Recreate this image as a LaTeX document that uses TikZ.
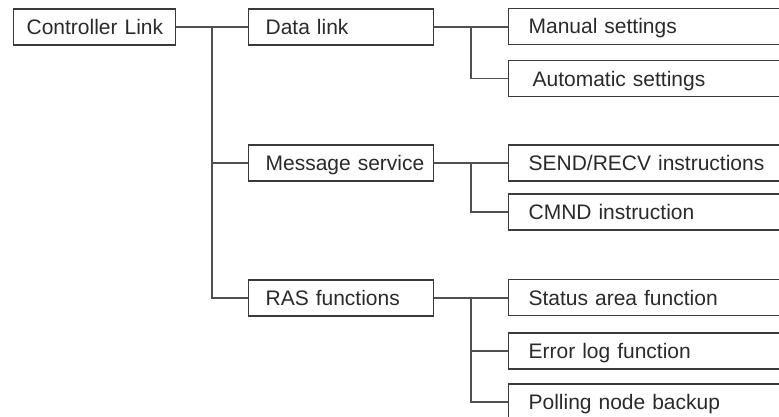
\documentclass[tikz,border=0pt]{standalone}
\usepackage{fontspec}
\setmainfont{Liberation Sans}
\definecolor{boxc}{HTML}{3A3A3A}
\definecolor{linec}{HTML}{505050}
\definecolor{txtc}{HTML}{2A2A2A}
\newcommand{\lbl}[1]{\rlap{#1}}
\begin{document}
\begin{tikzpicture}[x=1pt,y=-1pt,
  base/.style={draw=boxc, line width=1.2pt, minimum height=36pt, text height=15pt, text depth=0pt,
    inner ysep=0pt, anchor=west, align=left, text=txtc, font=\fontsize{21}{25}\selectfont},
  rootbox/.style={base, inner xsep=13pt, text width=136pt},
  midbox/.style={base, inner xsep=17pt, text width=151pt},
  leafbox/.style={base, inner xsep=20pt, text width=260pt},
  conn/.style={draw=linec, line width=1.2pt}]
\clip (0,0) rectangle (779,417);
\node[rootbox] (root) at (13,27) {\lbl{Controller Link}};
\node[midbox] (dl) at (248,27) {\lbl{Data link}};
\node[midbox] (ms) at (248,163) {\lbl{Message service}};
\node[midbox] (ras) at (248,298) {\lbl{RAS functions}};
\node[leafbox] (man) at (508,26.5) {\lbl{Manual settings}};
\node[leafbox] (aut) at (508,78.7) {\lbl{\hspace{4pt}Automatic settings}};
\node[leafbox] (snd) at (508,163) {\lbl{SEND/RECV instructions}};
\node[leafbox] (cmd) at (508,212) {\lbl{CMND instruction}};
\node[leafbox] (sta) at (508,297.7) {\lbl{Status area function}};
\node[leafbox] (err) at (508,351) {\lbl{Error log function}};
\node[leafbox] (pol) at (508,402) {\lbl{Polling node backup}};
% main trunk
\coordinate (t0) at (212,27);
\coordinate (t1) at (212,298);
\draw[conn] (root.east) -- (dl.west);
\draw[conn] (t0) -- (t1) -- (ras.west);
\draw[conn] (ms.west) -- (ms.west -| t0);
% data link subtree
\coordinate (d0) at (471,27);
\draw[conn] (dl.east) -- (man.west |- dl.east);
\draw[conn] (d0) |- (aut.west);
% message subtree
\coordinate (m0) at (471,163);
\draw[conn] (ms.east) -- (snd.west |- ms.east);
\draw[conn] (m0) |- (cmd.west);
% ras subtree
\coordinate (r0) at (471,298);
\draw[conn] (ras.east) -- (sta.west |- ras.east);
\draw[conn] (r0) |- (pol.west);
\draw[conn] (err.west) -- (err.west -| r0);
\end{tikzpicture}
\end{document}
